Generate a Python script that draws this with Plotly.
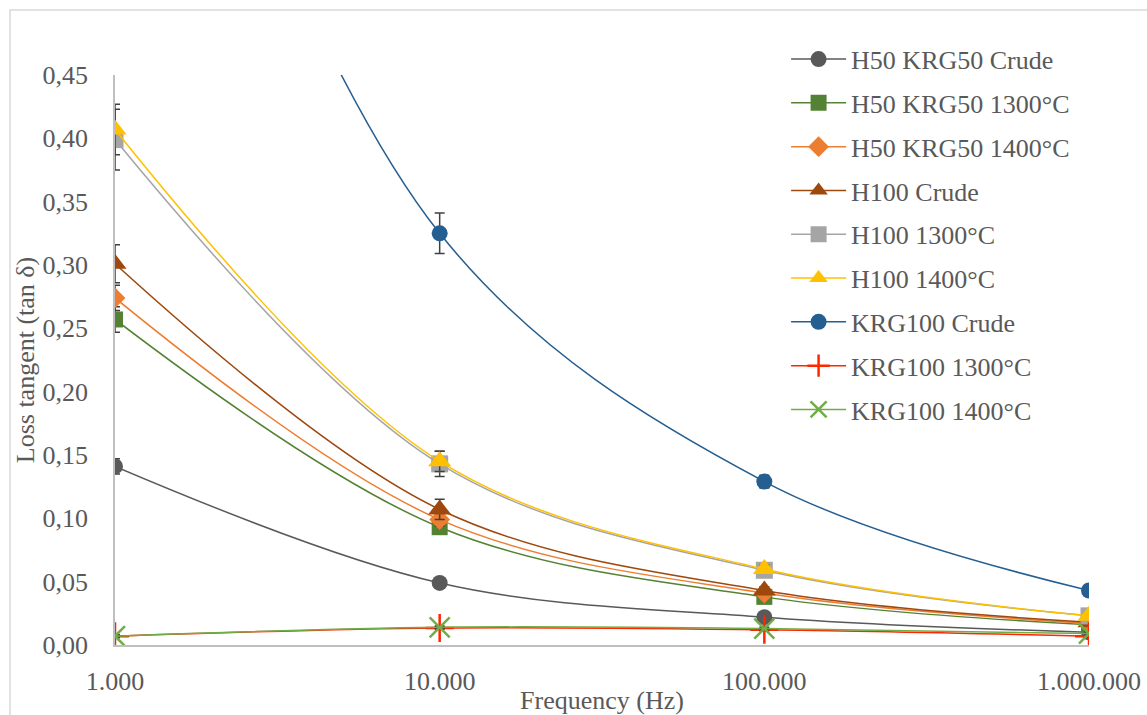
import plotly.graph_objects as go

freq = [1000, 10000, 100000, 1000000]
tick_vals = [1000, 10000, 100000, 1000000]
tick_text = ["1.000", "10.000", "100.000", "1.000.000"]
y_tick_vals = [0, 0.05, 0.10, 0.15, 0.20, 0.25, 0.30, 0.35, 0.40, 0.45]
y_tick_text = ["0,00", "0,05", "0,10", "0,15", "0,20", "0,25", "0,30", "0,35", "0,40", "0,45"]

names = ["H50 KRG50 Crude", "H50 KRG50 1300°C", "H50 KRG50 1400°C",
         "H100 Crude", "H100 1300°C", "H100 1400°C",
         "KRG100 Crude", "KRG100 1300°C", "KRG100 1400°C"]

h50_crude = [0.141, 0.049, 0.022, 0.010]
h50_1300 = [0.257, 0.093, 0.038, 0.016]
h50_1400 = [0.274, 0.099, 0.041, 0.017]
h100_crude = [0.301, 0.107, 0.043, 0.018]
h100_1300 = [0.399, 0.143, 0.059, 0.023]
h100_1400 = [0.407, 0.145, 0.060, 0.023]
krg_crude = [0.88, 0.325, 0.129, 0.043]
krg_1300 = [0.007, 0.0135, 0.012, 0.007]
krg_1400 = [0.007, 0.014, 0.013, 0.009]

err_h50_crude = [0.006, 0.003, 0.002, 0.001]
err_h50_1300 = [0.010, 0.005, 0.003, 0.001]
err_h50_1400 = [0.010, 0.005, 0.003, 0.001]
err_h100_crude = [0.015, 0.008, 0.003, 0.001]
err_h100_1300 = [0.024, 0.010, 0.003, 0.001]
err_h100_1400 = [0.020, 0.008, 0.003, 0.001]
err_krg_crude = [0.030, 0.016, 0.005, 0.002]
err_krg_1300 = [0.001, 0.001, 0.001, 0.001]
err_krg_1400 = [0.001, 0.001, 0.001, 0.001]

series = [h50_crude, h50_1300, h50_1400, h100_crude, h100_1300, h100_1400,
          krg_crude, krg_1300, krg_1400]
errors = [err_h50_crude, err_h50_1300, err_h50_1400, err_h100_crude, err_h100_1300,
          err_h100_1400, err_krg_crude, err_krg_1300, err_krg_1400]

colors = ["#595959", "#548235", "#ED7D31", "#9E480E", "#A5A5A5", "#FFC000",
          "#255E91", "#FF2600", "#70AD47"]
symbols = ["circle", "square", "diamond", "triangle-up", "square", "triangle-up",
           "circle", "cross-thin", "x-thin"]
sizes = [16, 16, 16, 20, 17, 20, 16, 20, 20]

FONT = "Liberation Serif"
TXT = "#595959"

fig = go.Figure()
for name, ys, err, c, s, sz in zip(names, series, errors, colors, symbols, sizes):
    thin = s.endswith("thin")
    fig.add_trace(go.Scatter(
        x=freq, y=ys, name=name, mode="lines+markers",
        line=dict(color=c, width=1.5, shape="spline", smoothing=1.0),
        marker=dict(symbol=s, size=sz, color=c,
                    line=dict(color=c, width=2.5 if thin else 0)),
        error_y=dict(type="data", array=err, visible=True,
                     color="#404040", thickness=1.5, width=5),
        legendgroup=name,
    ))

fig.update_layout(
    width=1147, height=715,
    margin=dict(l=115, r=58, t=75, b=70),
    paper_bgcolor="white", plot_bgcolor="white",
    font=dict(family=FONT, color=TXT, size=26),
    showlegend=True,
    legend=dict(x=0.689, y=1.069, xanchor="left", yanchor="top",
                bgcolor="rgba(0,0,0,0)", font=dict(size=26, color=TXT, family=FONT),
                tracegroupgap=7, itemwidth=55, maxheight=1.0),
    xaxis=dict(type="log", range=[3, 6], tickvals=tick_vals, ticktext=tick_text,
               showgrid=False, zeroline=False, showline=True, linecolor="#BFBFBF",
               linewidth=1.5, ticks="", ticklabelstandoff=12, automargin=False,
               tickfont=dict(size=26, color=TXT, family=FONT),
               title=dict(text="Frequency (Hz)", font=dict(size=26, color=TXT, family=FONT),
                          standoff=0)),
    yaxis=dict(range=[0, 0.45], tickvals=y_tick_vals, ticktext=y_tick_text,
               showgrid=False, zeroline=False, showline=True, linecolor="#BFBFBF",
               linewidth=1.5, ticks="", ticklabelstandoff=20, automargin=False,
               tickfont=dict(size=26, color=TXT, family=FONT),
               title=dict(text="Loss tangent (tan δ)", font=dict(size=26, color=TXT, family=FONT),
                          standoff=0)),
    shapes=[dict(type="rect", xref="paper", yref="paper",
                 x0=(10 - 115) / 974, x1=(1160 - 115) / 974,
                 y0=(645 - 730) / 570, y1=(645 - 10) / 570,
                 line=dict(color="#D9D9D9", width=1.5), layer="below")],
)

fig.write_html("out.html")
